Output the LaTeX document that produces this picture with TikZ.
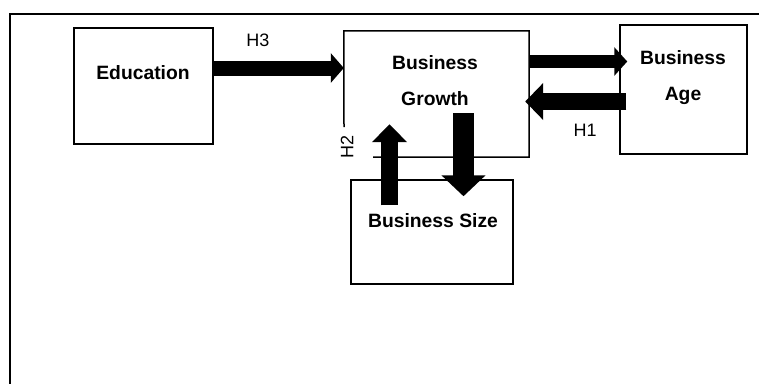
\documentclass[tikz,border=0pt]{standalone}
\usepackage{fontspec}
\setmainfont{Liberation Sans}
\usetikzlibrary{arrows.meta}
\tikzset{
  box/.style={draw, line width=1.5pt, rectangle, inner sep=0pt},
  frame/.style={line width=1.5pt},
  btext/.style={font=\fontsize{19.3}{36}\selectfont\bfseries, align=center, inner sep=0pt},
  hlabel/.style={font=\fontsize{18}{20}\selectfont, inner sep=0pt},
  fat/.style={line width=#1, line cap=butt},
}
\begin{document}
\begin{tikzpicture}[x=1pt,y=-1pt]
\useasboundingbox (0,0) rectangle (759,383);
% outer frame (only top and left visible)
\coordinate (fbl) at (10,384);
\coordinate (ftl) at (10,14);
\coordinate (ftr) at (760,14);
\draw[frame] (fbl) -- (ftl) -- (ftr);
% boxes
\node[box, minimum width=139pt, minimum height=116pt] (edu) at (143.5,86) {};
\node[btext] (edut) at (143,73) {Education};
\node[rectangle, minimum width=185pt, minimum height=126pt, inner sep=0pt] (gro) at (436.5,94) {};
\coordinate (grogap1) at (344,127);
\coordinate (grogap2) at (373,157);
\draw[line width=1.5pt] (grogap2) -- (gro.south east) -- (gro.north east) -- (gro.north west) -- (grogap1);
\node[btext] (grot) at (435,81) {Business\\Growth};
\node[box, minimum width=127pt, minimum height=129pt] (age) at (683.5,89.5) {};
\node[btext] (aget) at (683,77.5) {Business\\Age};
\node[box, minimum width=162pt, minimum height=104pt] (size) at (432,232) {};
\node[btext] (sizet) at (433,221) {Business Size};
% labels
\node[hlabel] (h3) at (258,40) {H3};
\node[hlabel] (h1) at (585,130) {H1};
\node[hlabel, rotate=90] (h2) at (347,147) {H2};
% arrows
\draw[fat=15pt, -{Triangle[length=13pt, width=29pt]}] (edu.east |- 0,68) -- (gro.west |- 0,68);
\draw[fat=13pt, -{Triangle[length=13pt, width=28pt]}] (gro.east |- 0,61.5) -- ([xshift=8pt]age.west |- 0,61.5);
\draw[fat=17pt, -{Triangle[length=18pt, width=36pt]}] ([xshift=7pt]age.west |- 0,101.5) -- ([xshift=-4pt]gro.east |- 0,101.5);
\draw[fat=17pt, -{Triangle[length=18pt, width=34pt]}] ([yshift=-26pt]size.north -| 389.5,0) -- ([yshift=33pt]gro.south -| 389.5,0);
\draw[fat=21pt, -{Triangle[length=21pt, width=43pt]}] ([yshift=44pt]gro.south -| 463.5,0) -- ([yshift=-17pt]size.north -| 463.5,0);
\end{tikzpicture}
\end{document}
